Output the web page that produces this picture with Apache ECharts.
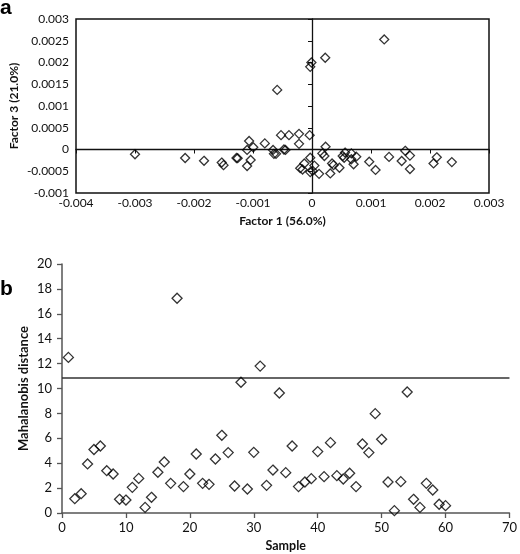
<!DOCTYPE html>
<html><head><meta charset="utf-8">
<script src="https://cdn.jsdelivr.net/npm/echarts@6/dist/echarts.min.js"></script>
<style>html,body{margin:0;padding:0;background:#fff}#c{width:520px;height:554px}</style>
</head><body><div id="c"></div><script>
// Panel a: factor scores
const factor1 = [-0.0030,-0.00215,-0.00183,-0.00153,-0.00150,-0.00128,-0.00126,-0.00110,-0.00110,-0.001066,-0.00104,-0.000995,-0.00080,-0.00066,-0.000645,-0.00061,-0.000475,-0.00045,-0.000525,-0.00039,-0.00022,-0.00022,-0.00004,-0.00020,-0.00016,-0.00013,-0.00003,-0.00003,0.00001,0.00004,0.00012,0.000175,0.00021,0.00023,0.00031,0.00034,0.000365,0.000465,0.00052,0.00056,0.000545,0.000667,0.000667,0.000705,0.00075,0.00097,0.001077,0.001306,0.00152,0.00158,0.00166,0.00166,0.00206,0.002115,0.00237,0.001224,0.000224,-0.00001,-0.00003,-0.00059];
const factor3 = [-0.00011,-0.000195,-0.00026,-0.00030,-0.00036,-0.000195,-0.00020,-0.00038,-0.00001,0.000195,-0.00024,0.00005,0.00014,-0.00001,-0.00010,-0.00010,0,-0.00001,0.00033,0.00033,0.00036,0.00013,0.00033,-0.00043,-0.00046,-0.00032,-0.00019,-0.00052,-0.00049,-0.00037,-0.00056,-0.00009,-0.00015,0.000065,-0.00055,-0.00032,-0.00036,-0.00042,-0.00015,-0.00007,-0.00019,-0.00009,-0.000225,-0.00034,-0.000165,-0.00028,-0.00047,-0.00017,-0.000265,-0.00003,-0.00014,-0.00045,-0.00032,-0.00018,-0.00029,0.00253,0.00211,0.00200,0.00190,0.00137];
const factor1Ticks = ['-0.004','-0.003','-0.002','-0.001','0','0.001','0.002','0.003'];
const factor3Ticks = ['-0.001','-0.0005','0','0.0005','0.001','0.0015','0.002','0.0025','0.003'];

// Panel b: Mahalanobis distance per sample
const samples = [1,2,3,4,5,6,7,8,9,10,11,12,13,14,15,16,17,18,19,20,21,22,23,24,25,26,27,28,29,30,31,32,33,34,35,36,37,38,39,40,41,42,43,44,45,46,47,48,49,50,51,52,53,54,55,56,57,58,59,60];
const mahalanobis = [12.5,1.15,1.55,3.94,5.1,5.38,3.4,3.13,1.1,1.04,2.06,2.78,0.45,1.26,3.27,4.1,2.38,17.25,2.12,3.13,4.74,2.38,2.3,4.34,6.24,4.85,2.17,10.5,1.93,4.87,11.8,2.22,3.45,9.64,3.24,5.38,2.12,2.49,2.76,4.93,2.92,5.65,3.0,2.73,3.19,2.12,5.54,4.85,7.98,5.92,2.49,0.19,2.52,9.72,1.1,0.45,2.38,1.85,0.7,0.59];
const threshold = 10.9;
const sampleTicks = ['0','10','20','30','40','50','60','70'];
const distTicks = ['0','2','4','6','8','10','12','14','16','18','20'];

const FONT = 'Lato';
const labelColor = '#111';
function tickFmt(arr, min, step){ return v => arr[Math.round((v - min) / step)] ?? ''; }

const dataA = factor1.map((x, i) => [x, factor3[i]]);
const dataB = samples.map((s, i) => [s, mahalanobis[i]]);

const marker = {
  symbol: 'diamond',
  itemStyle: { color: 'rgba(0,0,0,0)', borderColor: '#000', borderWidth: 1.3 }
};

const chart = echarts.init(document.getElementById('c'), null, { renderer: 'canvas' });
chart.setOption({
  animation: false,
  textStyle: { fontFamily: FONT },
  graphic: [
    { type: 'text', left: 0, top: -2, style: { text: 'a', font: 'bold 21px "Liberation Sans"', fill: '#000' } },
    { type: 'text', left: 0, top: 279, style: { text: 'b', font: 'bold 21px "Liberation Sans"', fill: '#000' } }
  ],
  grid: [
    { left: 62, top: 19, width: 427, height: 174, show: true, borderColor: '#111', borderWidth: 1.5, backgroundColor: 'rgba(0,0,0,0)' },
    { left: 62, top: 264, width: 450, height: 249 }
  ],
  xAxis: [
    { gridIndex: 0, type: 'value', min: -0.004, max: 0.003, interval: 0.001, position: 'bottom',
      axisLine: { show: false, onZero: false }, axisTick: { show: false }, splitLine: { show: false },
      axisLabel: { margin: 4, fontSize: 12, color: labelColor, fontFamily: FONT, formatter: tickFmt(factor1Ticks, -0.004, 0.001) },
      name: 'Factor 1 (56.0%)', nameLocation: 'middle', nameGap: 22, nameMoveOverlap: false,
      nameTextStyle: { fontWeight: 'bold', fontSize: 12, color: '#111', fontFamily: FONT } },
    { gridIndex: 0, type: 'value', min: -0.004, max: 0.003, interval: 0.001, position: 'bottom',
      axisLine: { show: true, onZero: true, onZeroAxisIndex: 0, lineStyle: { color: '#111', width: 1.3 } },
      axisTick: { show: true, length: 4, lineStyle: { color: '#111', width: 1 } },
      axisLabel: { show: false }, splitLine: { show: false } },
    { gridIndex: 1, type: 'value', min: 0, max: 70, interval: 10,
      axisLine: { show: true, onZero: false, lineStyle: { color: '#555', width: 1.5 } },
      axisTick: { show: true, length: 5, lineStyle: { color: '#555', width: 1.3 } },
      splitLine: { show: false },
      axisLabel: { margin: 8, fontSize: 13, color: labelColor, fontFamily: FONT, formatter: tickFmt(sampleTicks, 0, 10) },
      name: 'Sample', nameLocation: 'middle', nameGap: 26, nameMoveOverlap: false,
      nameTextStyle: { fontWeight: 'bold', fontSize: 12.5, color: '#111', fontFamily: FONT } }
  ],
  yAxis: [
    { gridIndex: 0, type: 'value', min: -0.001, max: 0.003, interval: 0.0005, position: 'left',
      axisLine: { show: false, onZero: false }, axisTick: { show: false }, splitLine: { show: false },
      axisLabel: { margin: 7, fontSize: 12, color: labelColor, fontFamily: FONT, formatter: tickFmt(factor3Ticks, -0.001, 0.0005) },
      name: 'Factor 3 (21.0%)', nameLocation: 'middle', nameGap: 56, nameMoveOverlap: false,
      nameTextStyle: { fontWeight: 'bold', fontSize: 12, color: '#111', fontFamily: FONT } },
    { gridIndex: 0, type: 'value', min: -0.001, max: 0.003, interval: 0.0005, position: 'left',
      axisLine: { show: true, onZero: true, onZeroAxisIndex: 0, lineStyle: { color: '#111', width: 1.3 } },
      axisTick: { show: true, length: 4, lineStyle: { color: '#111', width: 1 } },
      axisLabel: { show: false }, splitLine: { show: false } },
    { gridIndex: 1, type: 'value', min: 0, max: 20, interval: 2,
      axisLine: { show: true, onZero: false, lineStyle: { color: '#555', width: 1.5 } },
      axisTick: { show: true, length: 5, lineStyle: { color: '#555', width: 1.3 } },
      splitLine: { show: false },
      axisLabel: { margin: 10, fontSize: 13, color: labelColor, fontFamily: FONT, formatter: tickFmt(distTicks, 0, 2) },
      name: 'Mahalanobis distance', nameLocation: 'middle', nameGap: 32, nameMoveOverlap: false,
      nameTextStyle: { fontWeight: 'bold', fontSize: 13, color: '#111', fontFamily: FONT } }
  ],
  series: [
    Object.assign({ type: 'scatter', xAxisIndex: 0, yAxisIndex: 0, data: dataA, symbolSize: [9, 9], silent: true, z: 5 }, marker),
    Object.assign({ type: 'scatter', xAxisIndex: 2, yAxisIndex: 2, data: dataB, symbolSize: [10, 10], silent: true, z: 5,
      markLine: { silent: true, symbol: ['none', 'none'], label: { show: false },
        lineStyle: { color: '#333', width: 1.5, type: 'solid' }, data: [{ yAxis: threshold }] } }, marker)
  ]
});
</script></body></html>
